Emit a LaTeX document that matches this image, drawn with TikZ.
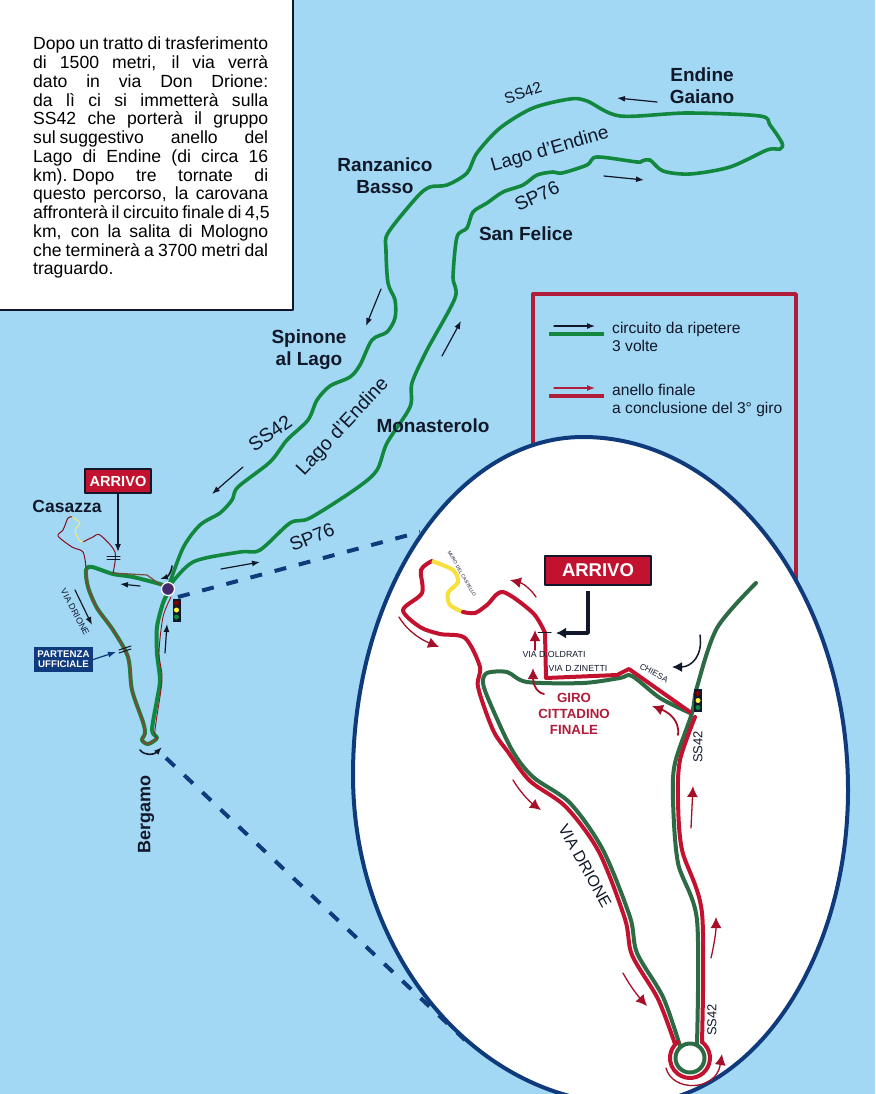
\documentclass[tikz,border=0pt]{standalone}
\usepackage{fontspec}
\setmainfont{Liberation Sans}
\usetikzlibrary{arrows.meta,positioning,shapes}
\definecolor{cielo}{HTML}{A2D8F3}
\definecolor{verde}{HTML}{12873E}
\definecolor{verdeb}{HTML}{2D6B45}
\definecolor{rosso}{HTML}{C2122F}
\definecolor{cornice}{HTML}{B01C3A}
\definecolor{blu}{HTML}{0F3A7C}
\definecolor{inchiostro}{HTML}{11182A}
\definecolor{bruno}{HTML}{7A4B35}
\definecolor{giallo}{HTML}{F7E03C}
\newcommand{\fs}[1]{\fontsize{#1}{#1}\selectfont}
\newcommand{\riga}[1]{\leavevmode\hbox to 235pt{\spaceskip=.2em plus 1fil\relax #1}\par}
\newcommand{\semaforo}[2]{%
	\fill[inchiostro] (#1-4,#2-11.5) rectangle (#1+4,#2+11.5);
	\fill[red!50!black] (#1,#2-7) circle (2.5);
	\fill[yellow!80!white] (#1,#2) circle (2.5);
	\fill[verde] (#1,#2+7) circle (2.5);
}
\begin{document}
\begin{tikzpicture}[x=1pt, y=-1pt, line join=round, line cap=round]

	\tikzstyle{strada}=[verde, line width=3.6pt]
	\tikzstyle{stradab}=[verdeb, line width=4pt]
	\tikzstyle{finale}=[rosso, line width=4pt]
	\tikzstyle{citta}=[font=\bfseries\fs{19}, text=inchiostro, align=center, inner sep=0pt]
	\tikzstyle{scritta}=[text=inchiostro, inner sep=0pt]
	\tikzstyle{freccia}=[-{Latex[length=8pt,width=6pt]}, inchiostro, line width=1.2pt]
	\tikzstyle{frecciar}=[-{Latex[length=11pt,width=11pt]}, rosso!85!black, line width=1.3pt]
	\tikzstyle{arrivo}=[rectangle, draw=inchiostro, line width=1.2pt, fill=rosso, text=white, font=\bfseries, inner sep=0pt]
	\tikzstyle{tratteggio}=[blu, line width=4pt, dash pattern=on 12pt off 13pt, line cap=butt]

	\useasboundingbox (0,0) rectangle (875,1094);
	\clip (0,0) rectangle (875,1094);
	\fill[cielo] (0,0) rectangle (875,1094);

	% riquadro testo
	\draw[fill=white, draw=inchiostro, line width=2.4pt] (-5,-5) rectangle (293,310);
	\node[anchor=north west, inner sep=0pt, text width=235pt] (testo) at (33,37) {\fontsize{17.6}{18.75}\selectfont
		\riga{Dopo un tratto di trasferimento}
		\riga{di 1500 metri, il via verrà}
		\riga{dato in via Don Drione:}
		\riga{da lì ci si immetterà sulla}
		\riga{SS42 che porterà il gruppo}
		\riga{sul\hspace{4pt}suggestivo anello del}
		\riga{Lago di Endine (di circa 16}
		\riga{km). Dopo tre tornate di}
		\riga{questo percorso, la carovana}
		\riga{affronterà il circuito finale di 4,5}
		\riga{km, con la salita di Mologno}
		\riga{che terminerà a 3700 metri dal}
		\riga{traguardo.\hfil}};

	% lago
	\draw[strada] plot[smooth, tension=.5] coordinates {(168,588) (183,548) (200,525) (220,513) (232,500) (238,487) (270,462) (287,440) (308,420) (317,400) (330,386) (350,377) (360,365) (372,340) (387,332) (395,318) (395,300) (388,283) (386,250) (388,233) (417,197) (430,187) (447,185) (467,173) (477,153) (500,128) (533,108) (570,99) (587,101) (620,116) (687,113) (760,116) (770,125) (782,143) (780,149) (767,150) (730,167) (690,174) (663,171) (650,160) (642,161) (637,162) (597,157) (587,165) (562,173) (553,172) (537,175) (523,185) (503,192) (487,203) (473,212) (467,228) (457,237) (453,277) (455,298) (427,350) (412,383) (410,407) (387,443) (377,470) (357,488) (310,518) (290,523) (260,550) (240,552) (193,562) (168,588)};

	% cornice legenda
	\draw[cornice, line width=3.4pt] (533,460) -- (533,294) -- (796,294) -- (796,600);
	\draw[freccia, line width=1.1pt] (554,326) -- (595,326);
	\draw[verde, line width=4.5pt, line cap=butt] (549,334) -- (604,334);
	\draw[freccia, cornice, line width=1.1pt] (554,388) -- (595,388);
	\draw[cornice, line width=4.5pt, line cap=butt] (549,396) -- (604,396);
	\node[scritta, anchor=north west, align=left, font=\fontsize{15.6}{18}\selectfont] (leg1) at (612,322) {circuito da ripetere\\3 volte};
	\node[scritta, anchor=north west, align=left, font=\fontsize{15.6}{18}\selectfont] (leg2) at (612,384) {anello finale\\a conclusione del 3° giro};

	% tratteggi
	\draw[tratteggio] (178,597) -- (420,532);

	% uovo
	\draw[fill=white, draw=blu, line width=4pt] (583,437) .. controls (729,437) and (848,596) .. (848,790) .. controls (848,963) and (750,1104) .. (630,1104) .. controls (478,1104) and (353,956) .. (353,775) .. controls (353,589) and (456,437) .. (583,437) -- cycle;
	\draw[tratteggio] (166,758) -- (465,1040);

	% mappa piccola
	\draw[verde, line width=4pt] plot[smooth, tension=.5] coordinates {(168,589) (163,585) (133,577) (113,574) (92,567) (86,570) (88,587) (97,608) (113,630) (128,657) (132,690) (143,722) (145,733) (142,740) (148,744) (157,738) (152,730) (157,700) (160,680) (157,653) (157,627) (163,603) (168,593)};
	\draw[bruno, line width=2pt] plot[smooth, tension=.5] coordinates {(86,570) (88,587) (97,608) (113,630) (128,657) (132,690) (143,722) (145,733) (142,740) (148,744) (157,738)};
	\draw[rosso!80!black, line width=.9pt] plot[smooth, tension=.5] coordinates {(157,738) (155,730) (162,680) (159,653) (163,617) (171,597)};
	\draw[bruno, line width=1.2pt] (113,573) -- (147,575) -- (165,588);
	\draw[rosso!70!black, line width=1pt] plot[smooth, tension=.5] coordinates {(113,573) (115,552) (100,535) (93,537) (83,542)};
	\draw[giallo!70!white, line width=1pt] plot[smooth, tension=.5] coordinates {(83,542) (79,540) (75,530) (80,523) (72,517)};
	\draw[rosso!70!black, line width=1pt] plot[smooth, tension=.5] coordinates {(72,517) (68,518) (63,530) (58,536) (72,547) (83,552) (86,568)};
	\draw[fill=blu!70!purple, draw=white, line width=1.2pt] (168,589) circle (6.5);
	\semaforo{176.5}{610}

	\node[arrivo, minimum width=66pt, minimum height=24pt, font=\bfseries\fs{14.6}] (arrivoa) at (118,481) {ARRIVO};
	\coordinate (traga) at (118,552);
	\draw[freccia] (arrivoa) -- (traga);
	\draw[inchiostro, line width=1pt] (107,556) -- (120,556) (107,559) -- (120,559);
	\node[rectangle, fill=blu, text=white, font=\bfseries\fontsize{9.7}{10}\selectfont, align=center, minimum width=59pt, minimum height=25pt, inner sep=0pt] (partenza) at (63.5,659.5) {PARTENZA\\UFFICIALE};
	\coordinate (partb) at (116,652);
	\draw[freccia, blu] (partenza.east) -- (partb);
	\draw[inchiostro, line width=1pt] (119,650) -- (131,646) (119,653) -- (131,649);

	\node[citta, font=\bfseries\fs{17.5}] (casazza) at (67,506) {Casazza};
	\node[citta, font=\bfseries\fs{18}, rotate=90] (bergamo) at (146,814) {Bergamo};
	\node[scritta, font=\fs{8.8}, rotate=-62] (drioa) at (75,612) {VIA DRIONE};

	\draw[freccia] (140,586) -- (120,584);
	\draw[freccia] (75,590) -- (92,625);
	\draw[freccia] (165,653) -- (167,624);
	\draw[freccia, line width=1.6pt] (172,566) .. controls (171,574) and (167,577) .. (160,579);
	\draw[freccia, line width=1.6pt] (140,750) .. controls (145,756) and (154,755) .. (162,747);

	% etichette lago
	\node[citta, text=inchiostro] (endine) at (702,86) {Endine\\[3pt]Gaiano};
	\node[citta] (ranza) at (385,176) {Ranzanico\\[3pt]Basso};
	\node[citta] (felice) at (526,234) {San Felice};
	\node[citta] (spinone) at (309,350) {Spinone\\[3pt]al Lago};
	\node[citta] (monast) at (433,426) {Monasterolo};
	\node[scritta, font=\fs{15.7}, rotate=18] (ssa) at (523,93) {SS42};
	\node[scritta, font=\fs{19}, rotate=16] (lagoa) at (550,150) {Lago d’Endine};
	\node[scritta, font=\fs{19}, rotate=25] (spa) at (537,196) {SP76};
	\node[scritta, font=\fs{19.5}, rotate=35] (ssb) at (270,433) {SS42};
	\node[scritta, font=\fs{19.5}, rotate=47] (lagob) at (343,427) {Lago d’Endine};
	\node[scritta, font=\fs{19}, rotate=22] (spb) at (312,537) {SP76};

	\draw[freccia] (657,102) -- (617,98);
	\draw[freccia] (604,176) -- (644,180);
	\draw[freccia] (381,289) -- (366,326);
	\draw[freccia] (243,467) -- (212,494);
	\draw[freccia] (442,356) -- (461,321);
	\draw[freccia] (221,569) -- (260,562);

	% ingrandimento
	\draw[stradab] plot[smooth, tension=.5] coordinates {(756,583) (717,628) (697,687) (692,713) (675,763) (673,800) (678,863) (697,920) (697,1044)};
	\draw[stradab] plot[smooth, tension=.5] coordinates {(680,1046) (663,997) (637,953) (630,917) (603,850) (570,803) (533,777) (512,750) (490,703) (483,683) (487,673) (507,672) (527,682) (583,683) (620,678) (632,676) (660,698) (690,713)};
	\draw[stradab] (690,1058) circle (14.5);

	\draw[finale] plot[smooth, tension=.5] coordinates {(695,717) (680,760) (678,800) (682,850) (702,913) (702,1042)};
	\draw[finale] (702,1042) arc[start angle=-53, end angle=233, radius=20];
	\draw[finale] plot[smooth, tension=.5] coordinates {(675,1044) (658,999) (632,955) (625,919) (599,852) (566,807) (530,781) (508,752) (493,730) (478,687) (480,667) (465,638) (440,634) (420,627) (403,610) (422,593) (421,570) (432,561)};
	\draw[giallo, line width=4pt, line cap=butt] plot[smooth, tension=.5] coordinates {(432,561) (453,570) (458,582) (448,593) (450,605) (463,612)};
	\draw[finale] plot[smooth, tension=.5] coordinates {(463,612) (475,613) (487,605) (503,592) (533,613) (545,633)};
	\draw[finale] (545,633) -- (546,678) -- (617,675) -- (629,669) -- (690,712);
	\semaforo{698}{700.5}

	\node[arrivo, minimum width=106pt, minimum height=29pt, font=\bfseries\fs{18.5}] (arrivob) at (598,570.5) {ARRIVO};
	\coordinate (piega) at (588,633);
	\coordinate (tragb) at (556,633);
	\draw[-{Latex[length=10pt,width=11pt]}, inchiostro, line width=3.5pt, line cap=butt] (588,591) -- (piega) -- (tragb);
	\draw[inchiostro, line width=1pt] (538,632) -- (551,632);

	\node[scritta, font=\fs{8.8}] (oldr) at (554,654) {VIA D.OLDRATI};
	\node[scritta, font=\fs{8.8}] (zine) at (578,668) {VIA D.ZINETTI};
	\node[scritta, font=\fs{8.3}, rotate=-29] (chiesa) at (654,673) {CHIESA};
	\node[scritta, font=\fs{4.8}, rotate=-60] (muro) at (462,574) {MURO DEL CASTELLO};
	\node[scritta, font=\fs{13}, rotate=90] (ssc) at (698,747) {SS42};
	\node[scritta, font=\fs{13}, rotate=90] (ssd) at (712,1020) {SS42};
	\node[scritta, font=\fs{16}, rotate=-61] (driob) at (585,866) {VIA DRIONE};
	\node[scritta, text=cornice, font=\bfseries\fontsize{13.3}{16}\selectfont, align=center] (giro) at (574,714) {GIRO\\CITTADINO\\FINALE};

	\draw[frecciar] (399,617) .. controls (408,632) and (422,640) .. (439,647);
	\draw[frecciar] (536,597) .. controls (530,588) and (522,583) .. (510,580);
	\draw[frecciar, line width=1.8pt] (535,650) -- (535,630);
	\draw[frecciar, line width=1.8pt] (544,694) .. controls (535,692) and (533,682) .. (533,668);
	\draw[frecciar, line width=1.8pt] (678,735) .. controls (680,720) and (668,712) .. (652,706);
	\draw[frecciar] (691,828) -- (693,786);
	\draw[frecciar] (513,780) .. controls (520,792) and (530,802) .. (541,810);
	\draw[frecciar] (623,973) .. controls (630,986) and (638,996) .. (647,1006);
	\draw[frecciar] (711,958) .. controls (714,945) and (716,932) .. (716,917);
	\draw[frecciar] (666,1068) .. controls (672,1092) and (716,1092) .. (722,1054);
	\draw[-{Latex[length=10pt,width=10pt]}, inchiostro, line width=1.5pt] (700,635) .. controls (703,655) and (692,667) .. (672,667);

\end{tikzpicture}
\end{document}
